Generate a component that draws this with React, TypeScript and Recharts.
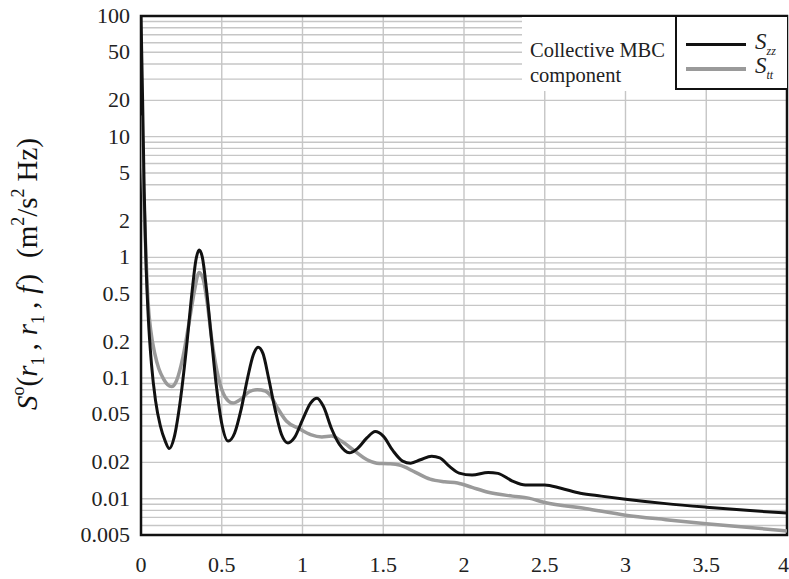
import React from 'react';
import { LineChart, Line, XAxis, YAxis, CartesianGrid, Legend, ReferenceArea } from 'recharts';

// S_zz (black)
const zzFreq = [0, 0.01, 0.02, 0.03, 0.045, 0.065, 0.09, 0.12, 0.15, 0.175, 0.205, 0.24, 0.28, 0.315, 0.34, 0.36, 0.38, 0.405, 0.435, 0.465, 0.5, 0.54, 0.58, 0.62, 0.66, 0.695, 0.725, 0.755, 0.79, 0.83, 0.87, 0.91, 0.95, 1.0, 1.05, 1.09, 1.13, 1.18, 1.23, 1.29, 1.34, 1.4, 1.45, 1.5, 1.56, 1.62, 1.67, 1.73, 1.8, 1.85, 1.91, 1.97, 2.05, 2.15, 2.21, 2.3, 2.38, 2.5, 2.6, 2.72, 2.85, 3.0, 3.25, 3.5, 3.75, 4.0];
const zzVal = [100, 20, 3.5, 1.0, 0.32, 0.13, 0.065, 0.04, 0.03, 0.026, 0.032, 0.06, 0.17, 0.5, 0.95, 1.15, 1.0, 0.55, 0.22, 0.09, 0.042, 0.03, 0.035, 0.055, 0.1, 0.155, 0.18, 0.16, 0.1, 0.055, 0.034, 0.029, 0.032, 0.045, 0.062, 0.068, 0.058, 0.038, 0.028, 0.024, 0.026, 0.032, 0.036, 0.033, 0.025, 0.0205, 0.0197, 0.021, 0.0225, 0.0218, 0.0185, 0.0163, 0.0157, 0.0165, 0.0162, 0.014, 0.013, 0.013, 0.0122, 0.0111, 0.0105, 0.0099, 0.0091, 0.0085, 0.008, 0.0076];

// S_tt (grey)
const ttFreq = [0, 0.01, 0.02, 0.03, 0.045, 0.06, 0.085, 0.11, 0.14, 0.165, 0.19, 0.22, 0.26, 0.3, 0.33, 0.36, 0.385, 0.41, 0.44, 0.48, 0.52, 0.57, 0.62, 0.67, 0.72, 0.77, 0.8, 0.84, 0.9, 0.98, 1.05, 1.12, 1.18, 1.24, 1.32, 1.4, 1.46, 1.53, 1.6, 1.7, 1.79, 1.88, 1.96, 2.05, 2.15, 2.3, 2.4, 2.5, 2.75, 3.0, 3.25, 3.5, 3.75, 4.0];
const ttVal = [15, 6, 2.5, 1.1, 0.4, 0.25, 0.16, 0.12, 0.098, 0.088, 0.085, 0.095, 0.15, 0.3, 0.52, 0.75, 0.66, 0.42, 0.2, 0.1, 0.07, 0.062, 0.067, 0.077, 0.08, 0.078, 0.072, 0.058, 0.044, 0.038, 0.034, 0.0325, 0.033, 0.03, 0.025, 0.021, 0.0197, 0.0195, 0.019, 0.0165, 0.0145, 0.0138, 0.0135, 0.0124, 0.0113, 0.0105, 0.0101, 0.0093, 0.0083, 0.0073, 0.0067, 0.0062, 0.0058, 0.0054];

const xTicks = [0, 0.5, 1, 1.5, 2, 2.5, 3, 3.5, 4];
const yTickLabels = [0.005, 0.01, 0.02, 0.05, 0.1, 0.2, 0.5, 1, 2, 5, 10, 20, 50, 100];
const decades = [0.001, 0.01, 0.1, 1, 10, 100];

// minor log grid (1..9 per decade) inside the axis range
const yGrid: number[] = [];
decades.forEach((d) => {
    for (let m = 1; m <= 9; m++) {
        const v = Number((m * d).toPrecision(3));
        if (v >= 0.005 && v <= 100) yGrid.push(v);
    }
});

const zzData = zzFreq.map((f, i) => ({ f, v: zzVal[i] }));
const ttData = ttFreq.map((f, i) => ({ f, v: ttVal[i] }));

const FONT = 'Liberation Serif';

const XTick = (props: any) => {
    const { x, y, payload } = props;
    const last = payload.value === xTicks[xTicks.length - 1];
    return (
        <text x={last ? 789 : x} y={y} dy={15} textAnchor={last ? 'end' : 'middle'} fontFamily={FONT} fontSize={22} fill="#222">
            {payload.value}
        </text>
    );
};

const YTick = (props: any) => {
    const { x, y, payload } = props;
    if (!yTickLabels.includes(payload.value)) return <g />;
    return (
        <text x={x} y={y} dy={7} textAnchor="end" fontFamily={FONT} fontSize={22} fill="#222">
            {payload.value}
        </text>
    );
};

const YLabel = () => (
    <text transform="translate(37, 274) rotate(-90)" textAnchor="middle" fontFamily={FONT} fontSize={29} fill="#111">
        <tspan fontStyle="italic">S</tspan>
        <tspan fontSize={18} dy={-13}>o</tspan>
        <tspan dy={13}>(</tspan>
        <tspan fontStyle="italic">r</tspan>
        <tspan fontSize={18} dy={7}>1</tspan>
        <tspan dy={-7} dx={6}>,</tspan>
        <tspan fontStyle="italic" dx={8}>r</tspan>
        <tspan fontSize={18} dy={7}>1</tspan>
        <tspan dy={-7} dx={6}>,</tspan>
        <tspan fontStyle="italic" dx={8}>f</tspan>
        <tspan dx={2}>)</tspan>
        <tspan dx={16}>(m</tspan>
        <tspan fontSize={18} dy={-13}>2</tspan>
        <tspan dy={13}>/s</tspan>
        <tspan fontSize={18} dy={-13}>2</tspan>
        <tspan dy={13} dx={7}>Hz)</tspan>
    </text>
);

const legendItems = [
    { key: 'zz', color: '#111', width: 3 },
    { key: 'tt', color: '#9a9a9a', width: 3.5 },
];

const LegendBox = () => (
    <div style={{ position: 'relative', width: 265, height: 74, fontFamily: FONT, color: '#222' }}>
        <div style={{ position: 'absolute', left: 0, top: 0, width: 153, height: 74, background: '#fff' }}>
            <div style={{ position: 'absolute', left: 8, top: 21, fontSize: 20.5, lineHeight: '25px' }}>
                Collective MBC
                <br />
                component
            </div>
        </div>
        <div
            style={{
                position: 'absolute',
                left: 153,
                top: 0,
                width: 110,
                height: 71,
                background: '#fff',
                borderLeft: '2px solid #111',
                borderBottom: '2px solid #111',
            }}
        >
            {legendItems.map((it, i) => (
                <div key={it.key} style={{ position: 'absolute', left: 9, top: 16 + i * 24, height: 22, width: 100 }}>
                    <div style={{ position: 'absolute', left: 0, top: 10, width: 60, height: it.width, background: it.color }} />
                    <div style={{ position: 'absolute', left: 69, top: -4, fontSize: 23, fontStyle: 'italic', whiteSpace: 'nowrap' }}>
                        S<sub style={{ fontSize: 12 }}>{it.key}</sub>
                    </div>
                </div>
            ))}
        </div>
    </div>
);

export default function App() {
    return (
        <div style={{ position: 'absolute', left: 0, top: 0, background: '#fff', fontFamily: FONT }}>
            <LineChart width={789} height={579} margin={{ top: 16, right: 2, bottom: 14, left: 0 }}>
                <CartesianGrid stroke="#c6c6c6" strokeWidth={1.4} horizontalValues={yGrid} verticalValues={xTicks} />
                <XAxis
                    dataKey="f"
                    type="number"
                    domain={[0, 4]}
                    ticks={xTicks}
                    interval={0}
                    allowDataOverflow
                    height={30}
                    axisLine={false}
                    tickLine={false}
                    tickSize={0}
                    tickMargin={22}
                    tick={<XTick />}
                />
                <YAxis
                    dataKey="v"
                    type="number"
                    scale="log"
                    domain={[0.005, 100]}
                    ticks={yGrid}
                    interval={0}
                    allowDataOverflow
                    width={141}
                    axisLine={false}
                    tickLine={false}
                    tickSize={0}
                    tickMargin={11}
                    tick={<YTick />}
                    label={{ content: () => <YLabel /> }}
                />
                <ReferenceArea x1={0} x2={4} y1={0.005} y2={100} fill="none" stroke="#111" strokeWidth={2.5} ifOverflow="visible" />
                <Line data={ttData} dataKey="v" type="monotone" stroke="#9a9a9a" strokeWidth={3.5} dot={false} isAnimationActive={false} />
                <Line data={zzData} dataKey="v" type="monotone" stroke="#111" strokeWidth={3} dot={false} isAnimationActive={false} />
                <Legend
                    layout="horizontal"
                    verticalAlign="middle"
                    align="center"
                    content={() => <LegendBox />}
                    wrapperStyle={{ left: 522, top: 17, width: 265, height: 74 }}
                />
            </LineChart>
        </div>
    );
}
